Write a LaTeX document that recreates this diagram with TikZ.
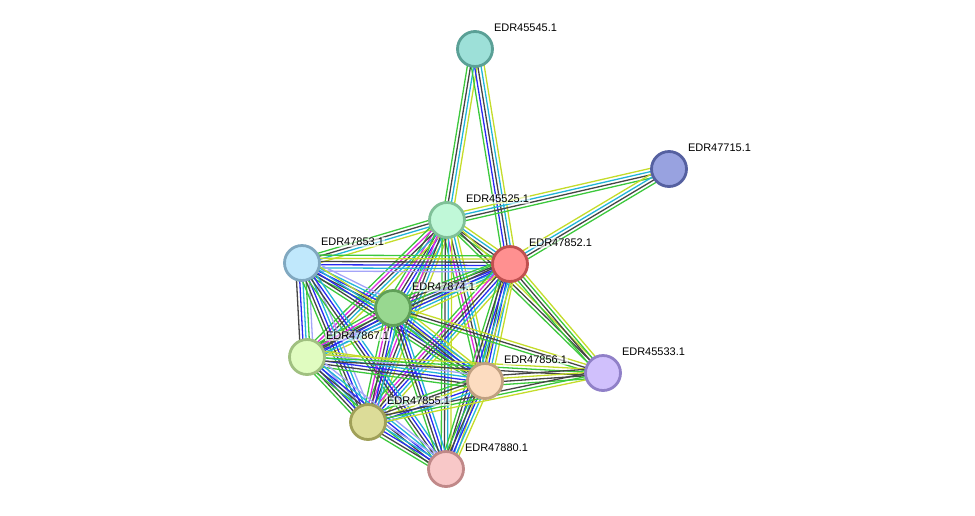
\documentclass[tikz,border=0pt]{standalone}
\usepackage{fontspec}
\setmainfont{Liberation Sans}
\usetikzlibrary{calc}
\pgfdeclarelayer{background}
\pgfsetlayers{background,main}
\definecolor{eg}{HTML}{3CC83C}
\definecolor{ek}{HTML}{454545}
\definecolor{ec}{HTML}{22B4D8}
\definecolor{eb}{HTML}{2A2AF0}
\definecolor{em}{HTML}{E028E0}
\definecolor{ey}{HTML}{C4DC2A}
\definecolor{el}{HTML}{A4A4F8}
\tikzset{
  edgeline/.style={line width=1.3pt},
  prot/.style={circle, draw, line width=2.8pt, minimum size=35pt, inner sep=0pt},
  plabel/.style={anchor=west, inner sep=0.8pt, fill=white, fill opacity=0.6, text opacity=1, font=\fontsize{11}{13}\selectfont},
}
\newcount\bcnt
\newcommand\bundle[3]{%
  \global\bcnt=0
  \foreach \c in {#3}{\global\advance\bcnt by 1}%
  \foreach \c [count=\i] in {#3}{%
    \pgfmathsetmacro\off{(\i-(\the\bcnt+1)/2)*3.2}%
    \draw[edgeline,\c] ($(#1)!\off pt!90:(#2)$) -- ($(#2)!\off pt!-90:(#1)$);
  }%
}
\begin{document}
\begin{tikzpicture}[x=1pt,y=-1pt]
\useasboundingbox (0,0) rectangle (975,515);
\node[prot, fill={rgb,255:red,157;green,224;blue,216}, draw={rgb,255:red,90;green,160;blue,150}] (J) at (475,49) {};
\node[prot, fill={rgb,255:red,152;green,162;blue,224}, draw={rgb,255:red,85;green,96;blue,160}] (K) at (669,169) {};
\node[prot, fill={rgb,255:red,192;green,248;blue,216}, draw={rgb,255:red,128;green,192;blue,152}] (A) at (447,220) {};
\node[prot, fill={rgb,255:red,255;green,144;blue,144}, draw={rgb,255:red,192;green,80;blue,80}] (B) at (510,264) {};
\node[prot, fill={rgb,255:red,192;green,232;blue,252}, draw={rgb,255:red,128;green,168;blue,192}] (C) at (302,263) {};
\node[prot, fill={rgb,255:red,152;green,216;blue,144}, draw={rgb,255:red,96;green,160;blue,88}] (D) at (393,308) {};
\node[prot, fill={rgb,255:red,224;green,252;blue,192}, draw={rgb,255:red,160;green,192;blue,128}] (E) at (307,357) {};
\node[prot, fill={rgb,255:red,252;green,220;blue,192}, draw={rgb,255:red,192;green,160;blue,128}] (F) at (485,381) {};
\node[prot, fill={rgb,255:red,220;green,220;blue,152}, draw={rgb,255:red,160;green,160;blue,88}] (G) at (368,422) {};
\node[prot, fill={rgb,255:red,248;green,200;blue,200}, draw={rgb,255:red,192;green,136;blue,136}] (H) at (446,469) {};
\node[prot, fill={rgb,255:red,208;green,192;blue,252}, draw={rgb,255:red,144;green,128;blue,200}] (I) at (603,373) {};
\begin{pgfonlayer}{background}
\bundle{J}{A}{eg,ek,ec,ey}
\bundle{J}{B}{eg,eb,ek,ec,ey}
\bundle{K}{A}{ey,ec,ek,eg}
\bundle{K}{B}{ey,ec,ek,eg}
\bundle{A}{B}{eg,ek,ec,ey}
\bundle{A}{C}{eg,ek,ec,ey}
\bundle{A}{D}{eg,em,ek,eb,ec,ey}
\bundle{A}{E}{eg,em,ek,ec,ey}
\bundle{A}{F}{eg,em,ek,ec,ey}
\bundle{A}{G}{eg,em,ek,ec,ey}
\bundle{A}{H}{eg,ek,ec,ey}
\bundle{A}{I}{eg,ek,ey}
\bundle{B}{C}{eg,ey,ek,eb,ec,el}
\bundle{B}{D}{eg,ek,eb,ec,ey}
\bundle{B}{E}{eg,ek,eb,ec,ey}
\bundle{B}{F}{eg,ek,eb,ec,ey}
\bundle{B}{G}{eg,em,ek,eb,ec,ey}
\bundle{B}{H}{eg,ek,eb,ec,ey}
\bundle{B}{I}{eg,ek,eg,ey}
\bundle{C}{D}{eg,ek,eb,ec,el}
\bundle{C}{E}{ek,eb,ec,eg,el}
\bundle{C}{F}{eg,ek,eb,ec,ey}
\bundle{C}{G}{eg,ek,eb,ec,el}
\bundle{C}{H}{eg,ek,eb,ec}
\bundle{D}{E}{eg,em,ek,eb,ec}
\bundle{D}{F}{eg,ek,eb,ec,ey}
\bundle{D}{G}{eg,em,ek,eb,ec}
\bundle{D}{H}{eg,ek,eb,ec}
\bundle{D}{I}{eg,ek,ey}
\bundle{E}{F}{eg,ek,eb,ec,el,ey}
\bundle{E}{G}{eg,ek,eb,ec,el}
\bundle{E}{H}{eg,ek,eb,ec,el}
\bundle{E}{I}{ek,eg,ey}
\bundle{F}{G}{eg,ek,ey,eb,ec}
\bundle{F}{H}{eg,ek,eb,ec,ey}
\bundle{F}{I}{eg,ek,ey,ek}
\bundle{G}{H}{eg,ek,eb,ec,el}
\bundle{G}{I}{ey,eg,ek}
\end{pgfonlayer}
\node[plabel] (lJ) at (493,28) {EDR45545.1};
\node[plabel] (lK) at (687,148) {EDR47715.1};
\node[plabel] (lA) at (465,199) {EDR45525.1};
\node[plabel] (lB) at (528,243) {EDR47852.1};
\node[plabel] (lC) at (320,242) {EDR47853.1};
\node[plabel] (lD) at (411,287) {EDR47874.1};
\node[plabel] (lE) at (325,336) {EDR47867.1};
\node[plabel] (lF) at (503,360) {EDR47856.1};
\node[plabel] (lG) at (386,401) {EDR47855.1};
\node[plabel] (lH) at (464,448) {EDR47880.1};
\node[plabel] (lI) at (621,352) {EDR45533.1};
\end{tikzpicture}
\end{document}
